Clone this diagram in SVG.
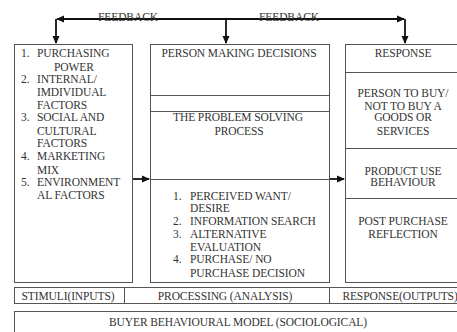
<svg xmlns="http://www.w3.org/2000/svg" width="457" height="332" viewBox="0 0 457 332">
<defs>
<style>
.box{fill:none;stroke:#555;stroke-width:1}
.ln{stroke:#555;stroke-width:1}
.t{font-family:"Liberation Serif","Times New Roman",serif;font-size:11.5px;fill:#333;letter-spacing:-0.1px}
.c{text-anchor:middle}
.arr{stroke:#111;stroke-width:1.8;fill:none}
</style>
<marker id="ah" markerWidth="9" markerHeight="9" refX="7" refY="4.5" orient="auto" markerUnits="userSpaceOnUse">
<path d="M0,1 L8,4.5 L0,8 Z" fill="#111"/>
</marker>
</defs>
<rect width="457" height="332" fill="#fff"/>

<g id="connectors">
<line class="arr" x1="226" y1="19" x2="57" y2="19" marker-end="url(#ah)"/>
<line class="arr" x1="226" y1="19" x2="404" y2="19" marker-end="url(#ah)"/>
<line class="arr" x1="56" y1="19" x2="56" y2="43" marker-end="url(#ah)"/>
<line class="arr" x1="226" y1="19" x2="226" y2="43" marker-end="url(#ah)"/>
<line class="arr" x1="405" y1="19" x2="405" y2="43" marker-end="url(#ah)"/>
<line class="arr" x1="133" y1="179" x2="149" y2="179" marker-end="url(#ah)"/>
<line class="arr" x1="330" y1="179" x2="344" y2="179" marker-end="url(#ah)"/>
<text class="t" x="98" y="21">FEEDBACK</text>
<text class="t" x="259" y="21">FEEDBACK</text>
</g>

<g id="stimuli">
<rect class="box" x="14.5" y="44.5" width="118" height="238"/>
<text class="t" x="21" y="57">1.</text><text class="t" x="37" y="57">PURCHASING</text>
<text class="t" x="54" y="71">POWER</text>
<text class="t" x="21" y="83">2.</text><text class="t" x="37" y="83">INTERNAL/</text>
<text class="t" x="37" y="96">IMDIVIDUAL</text>
<text class="t" x="37" y="109">FACTORS</text>
<text class="t" x="21" y="121">3.</text><text class="t" x="37" y="121">SOCIAL AND</text>
<text class="t" x="37" y="135">CULTURAL</text>
<text class="t" x="37" y="147">FACTORS</text>
<text class="t" x="21" y="160">4.</text><text class="t" x="37" y="160">MARKETING</text>
<text class="t" x="37" y="174">MIX</text>
<text class="t" x="21" y="186">5.</text><text class="t" x="37" y="186">ENVIRONMENT</text>
<text class="t" x="37" y="199">AL FACTORS</text>
</g>

<g id="processing">
<rect class="box" x="150.5" y="44.5" width="179" height="238"/>
<line class="ln" x1="150" y1="95.5" x2="330" y2="95.5"/>
<line class="ln" x1="150" y1="111.5" x2="330" y2="111.5"/>
<line class="ln" x1="150" y1="179.5" x2="330" y2="179.5"/>
<text class="t c" x="239" y="57">PERSON MAKING DECISIONS</text>
<text class="t c" x="238" y="121">THE PROBLEM SOLVING</text>
<text class="t c" x="239" y="135">PROCESS</text>
<text class="t" x="173" y="200">1.</text><text class="t" x="190" y="200">PERCEIVED WANT/</text>
<text class="t" x="190" y="212">DESIRE</text>
<text class="t" x="173" y="225">2.</text><text class="t" x="190" y="225">INFORMATION SEARCH</text>
<text class="t" x="173" y="238">3.</text><text class="t" x="190" y="238">ALTERNATIVE</text>
<text class="t" x="190" y="251">EVALUATION</text>
<text class="t" x="173" y="263">4.</text><text class="t" x="190" y="263">PURCHASE/ NO</text>
<text class="t" x="190" y="277">PURCHASE DECISION</text>
</g>

<g id="response">
<rect class="box" x="345.5" y="44.5" width="120" height="238"/>
<line class="ln" x1="345" y1="72.5" x2="457" y2="72.5"/>
<line class="ln" x1="345" y1="148.5" x2="457" y2="148.5"/>
<line class="ln" x1="345" y1="198.5" x2="457" y2="198.5"/>
<text class="t c" x="403" y="57">RESPONSE</text>
<text class="t c" x="403" y="97">PERSON TO BUY/</text>
<text class="t c" x="403" y="110">NOT TO BUY A</text>
<text class="t c" x="403" y="121">GOODS OR</text>
<text class="t c" x="403" y="135">SERVICES</text>
<text class="t c" x="403" y="175">PRODUCT USE</text>
<text class="t c" x="403" y="186">BEHAVIOUR</text>
<text class="t c" x="403" y="225">POST PURCHASE</text>
<text class="t c" x="403" y="238">REFLECTION</text>
</g>

<g id="labels-row">
<rect class="box" x="14.5" y="287.5" width="460" height="16"/>
<line class="ln" x1="124.5" y1="287" x2="124.5" y2="303"/>
<line class="ln" x1="329.5" y1="287" x2="329.5" y2="303"/>
<text class="t c" x="68" y="300">STIMULI(INPUTS)</text>
<text class="t c" x="225" y="300">PROCESSING (ANALYSIS)</text>
<text class="t c" x="400" y="300">RESPONSE(OUTPUTS)</text>
</g>

<g id="title">
<rect class="box" x="14.5" y="311.5" width="460" height="40"/>
<text class="t c" x="238" y="326">BUYER BEHAVIOURAL MODEL (SOCIOLOGICAL)</text>
</g>
</svg>
